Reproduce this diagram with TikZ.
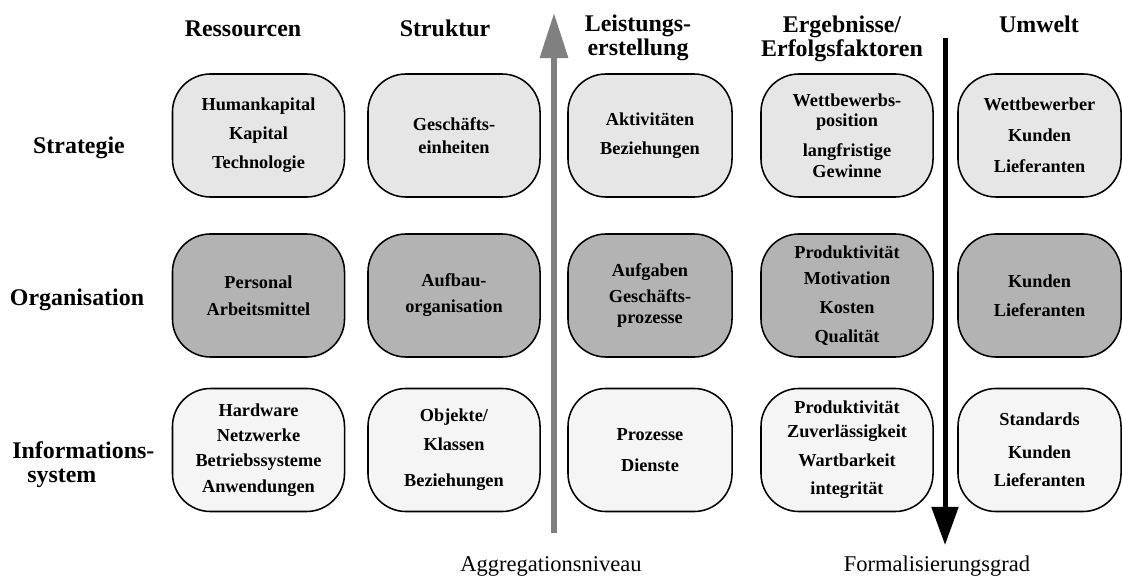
\documentclass[tikz,border=0pt]{standalone}
\usepackage{fontspec}
\setmainfont{Liberation Serif}
\usetikzlibrary{arrows.meta, positioning}
\definecolor{boxlight}{RGB}{230,230,230}
\definecolor{boxdark}{RGB}{179,179,179}
\definecolor{boxpale}{RGB}{245,245,245}
\definecolor{arrowgray}{RGB}{128,128,128}
\tikzset{
  cell/.style={rectangle, draw=black, line width=1.1pt, rounded corners=0.95cm,
    minimum width=4.3cm, minimum height=3.075cm, align=center, inner sep=0pt,
    font=\fontsize{13}{14.5}\selectfont\bfseries},
  stratcell/.style={cell, fill=boxlight},
  orgcell/.style={cell, fill=boxdark},
  iscell/.style={cell, fill=boxpale},
  narrowcell/.style={minimum width=4.1cm},
  colhead/.style={font=\fontsize{17}{17}\selectfont\bfseries, align=center, inner sep=0pt},
  rowhead/.style={font=\fontsize{17}{17}\selectfont\bfseries, align=left, inner sep=0pt},
  axislabel/.style={font=\fontsize{16}{16}\selectfont, inner sep=0pt, anchor=base},
  aggarrow/.style={draw=arrowgray, line width=1.5mm, -{Triangle[length=11.25mm, width=6.75mm]}},
  formarrow/.style={draw=black, line width=1.25mm, -{Triangle[length=9.5mm, width=6.5mm]}}
}

\begin{document}
\begin{tikzpicture}[x=0.025cm, y=-0.025cm]
  \fill[white] (0,0) rectangle (1122,576);
  \useasboundingbox (0,0) rectangle (1122,576);
  % ── column heads ─────────────────────────────────────────────────────────
  \node[colhead, anchor=base] (ressourcen) at (243,37) {Ressourcen};
  \node[colhead, anchor=base] (struktur) at (445,37) {Struktur};
  \node[colhead] (leistung) at (638,38) {Leistungs-\\erstellung};
  \node[colhead] (ergebnisse) at (842,39) {Ergebnisse/\\Erfolgsfaktoren};
  \node[colhead, anchor=base] (umwelt) at (1039,33) {Umwelt};
  % ── row heads ────────────────────────────────────────────────────────────
  \node[rowhead] (strategie) at (79,148) {Strategie};
  \node[rowhead] (organisation) at (77,300) {Organisation};
  \node[rowhead, anchor=west] (infosys) at (12,465) {Informations-\\\hspace*{10.7pt}system};
  % ── Strategie ────────────────────────────────────────────────────────────
  \node[stratcell] (resStrat) at (258.5,135.5) {Humankapital\\[6pt]Kapital\\[6pt]Technologie};
  \node[stratcell] (strStrat) at (454,135.5) {Geschäfts-\\[2pt]einheiten};
  \node[stratcell, narrowcell] (lstStrat) at (650,135.5) {Aktivitäten\\[6pt]Beziehungen};
  \node[stratcell] (ergStrat) at (847,135.5) {Wettbewerbs-\\position\\[7pt]langfristige\\Gewinne};
  \node[stratcell, minimum width=4.075cm] (umwStrat) at (1039.5,135.5) {Wettbewerber\\[7.5pt]Kunden\\[7.5pt]Lieferanten};
  % ── Organisation ─────────────────────────────────────────────────────────
  \node[orgcell] (resOrg) at (258.5,295.5) {Personal\\[5pt]Arbeitsmittel};
  \node[orgcell] (strOrg) at (454,295.5) {Aufbau-\\[4pt]organisation};
  \node[orgcell, narrowcell] (lstOrg) at (650,295.5) {Aufgaben\\[4pt]Geschäfts-\\prozesse};
  \node[orgcell] (ergOrg) at (847,295.5) {Produktivität\\[4pt]Motivation\\[6pt]Kosten\\[6pt]Qualität};
  \node[orgcell, minimum width=4.075cm] (umwOrg) at (1039.5,295.5) {Kunden\\[6pt]Lieferanten};
  % ── Informationssystem ────────────────────────────────────────────────────
  \node[iscell] (resIS) at (258.5,450) {Hardware\\[3.5pt]Netzwerke\\[3.5pt]Betriebssysteme\\[4pt]Anwendungen};
  \node[iscell] (strIS) at (454,450) {Objekte/\\[6pt]Klassen\\[11pt]Beziehungen};
  \node[iscell, narrowcell] (lstIS) at (650,450) {Prozesse\\[8pt]Dienste};
  \node[iscell] (ergIS) at (847,450) {Produktivität\\[2.5pt]Zuverlässigkeit\\[6pt]Wartbarkeit\\[5.5pt]integrität};
  \node[iscell, minimum width=4.075cm] (umwIS) at (1039.5,450) {Standards\\[9pt]Kunden\\[5.5pt]Lieferanten};
  % ── axes ─────────────────────────────────────────────────────────────────
  \coordinate (aggfoot) at (554,533);
  \coordinate (aggtip) at (554,13);
  \coordinate (formtop) at (945,38);
  \coordinate (formtip) at (945,545);
  \draw[aggarrow] (aggfoot) -- (aggtip);
  \draw[formarrow] (formtop) -- (formtip);
  \node[axislabel] (aggniveau) at (551,571) {Aggregationsniveau};
  \node[axislabel] (formgrad) at (937,571) {Formalisierungsgrad};
\end{tikzpicture}
\end{document}
